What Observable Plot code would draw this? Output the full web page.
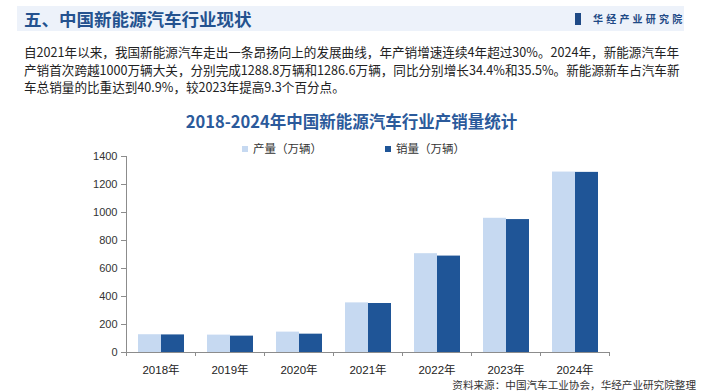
<!DOCTYPE html>
<html>
<head>
<meta charset="utf-8">
<script src="https://cdn.jsdelivr.net/npm/d3@7"></script>
<script src="https://cdn.jsdelivr.net/npm/@observablehq/plot@0.6"></script>
<style>
  html, body { margin: 0; padding: 0; background: #fff; }
  #page { position: relative; width: 705px; height: 392px; overflow: hidden; font-family: "Noto Sans CJK SC", "Noto Sans", sans-serif; }
  #band { position: absolute; left: 17px; top: 6px; width: 667px; height: 25px; background: #edf2fa; }
  #head { position: absolute; left: 24px; top: 6px; height: 25px; line-height: 25px; font-size: 17.5px; font-weight: 700; color: #24528f; white-space: nowrap; }
  #logo { position: absolute; left: 575px; top: 6px; height: 25px; line-height: 25px; font-size: 10px; font-weight: 700; color: #1f4a86; letter-spacing: 3.2px; white-space: nowrap; }
  #logo .ic { display: inline-block; width: 5px; height: 12px; background: #1f4a86; vertical-align: -2px; margin-right: 12px; border-left: 1px solid #1f4a86; }
  .para { position: absolute; left: 24px; width: 652px; font-size: 12.6px; line-height: 17.5px; color: #222; white-space: nowrap; text-align: justify; text-align-last: justify; }
  .para.last { text-align-last: left; }
  #ctitle { position: absolute; left: 0; width: 703px; top: 109px; text-align: center; font-size: 16.5px; font-weight: 700; color: #2b5a9b; line-height: 24px; }
  #legend { position: absolute; top: 140px; left: 0; height: 16px; font-size: 11.5px; color: #333; line-height: 16px; white-space: nowrap; }
  .lg { position: absolute; top: 0; }
  .lg i { display: inline-block; width: 6px; height: 6px; margin-right: 5px; vertical-align: 1px; }
  #chart { position: absolute; left: 0; top: 150px; }
  #source { position: absolute; right: 9px; top: 377px; font-size: 10.6px; color: #333; line-height: 16px; white-space: nowrap; }
</style>
</head>
<body>
<div id="page">
  <div id="band"></div>
  <div id="head"></div>
  <div id="logo"><span class="ic"></span><span id="logotext"></span></div>
  <div id="paras"></div>
  <div id="ctitle"></div>
  <div id="legend"></div>
  <div id="chart"></div>
  <div id="source"></div>
</div>
<script>
// ---- data ----
const years = ["2018年", "2019年", "2020年", "2021年", "2022年", "2023年", "2024年"];
const production = [127, 124.2, 145.6, 354.5, 705.8, 958.7, 1288.8];
const sales = [125.6, 117, 131, 350, 688.7, 949.5, 1286.6];
const seriesNames = ["产量（万辆）", "销量（万辆）"];
const seriesColors = ["#c6d9f1", "#1f5597"];
const yTicks = [0, 200, 400, 600, 800, 1000, 1200, 1400];

const headTitle = "五、中国新能源汽车行业现状";
const logoText = "华经产业研究院";
const paraLines = [
  "自2021年以来，我国新能源汽车走出一条昂扬向上的发展曲线，年产销增速连续4年超过30%。2024年，新能源汽车年",
  "产销首次跨越1000万辆大关，分别完成1288.8万辆和1286.6万辆，同比分别增长34.4%和35.5%。新能源新车占汽车新",
  "车总销量的比重达到40.9%，较2023年提高9.3个百分点。"
];
const chartTitle = "2018-2024年中国新能源汽车行业产销量统计";
const sourceText = "资料来源：中国汽车工业协会，华经产业研究院整理";

// ---- text ----
document.getElementById("head").textContent = headTitle;
document.getElementById("logotext").textContent = logoText;
const paras = document.getElementById("paras");
paraLines.forEach((t, i) => {
  const d = document.createElement("div");
  d.className = "para" + (i === paraLines.length - 1 ? " last" : "");
  d.style.top = (43 + i * 17.5) + "px";
  d.textContent = t;
  paras.appendChild(d);
});
document.getElementById("ctitle").textContent = chartTitle;
document.getElementById("source").textContent = sourceText;

const legendLefts = [242, 385];
const legend = document.getElementById("legend");
seriesNames.forEach((s, i) => {
  const it = document.createElement("span");
  it.className = "lg";
  it.style.left = legendLefts[i] + "px";
  const sw = document.createElement("i");
  sw.style.background = seriesColors[i];
  it.appendChild(sw);
  it.appendChild(document.createTextNode(s));
  legend.appendChild(it);
});

// ---- chart ----
const data = years.flatMap((y, i) => [
  {year: y, type: seriesNames[0], value: production[i]},
  {year: y, type: seriesNames[1], value: sales[i]}
]);

const W = 705, H = 235, mL = 126, mR = 96, mT = 6, mB = 33;
const step = (W - mL - mR) / years.length;
const axisGrey = "#8c8c8c";

const chart = Plot.plot({
  width: W, height: H,
  marginLeft: mL, marginRight: mR, marginTop: mT, marginBottom: mB,
  style: {fontFamily: "'Liberation Sans', Arial, 'Noto Sans CJK SC', sans-serif", fontSize: "11px", color: "#404040", background: "transparent", overflow: "visible"},
  fx: {domain: years, padding: 0, label: null},
  x: {domain: seriesNames, paddingInner: 0, paddingOuter: 0.5, axis: null},
  y: {domain: [0, 1400], label: null},
  color: {domain: seriesNames, range: seriesColors},
  marks: [
    Plot.barY(data, {fx: "year", x: "type", y: "value", fill: "type"}),
    Plot.ruleY([0], {stroke: axisGrey}),
    Plot.frame({anchor: "left", facetAnchor: "left", stroke: axisGrey}),
    Plot.axisY({ticks: yTicks, tickFormat: d => String(d), tickSize: 5, tickPadding: 4, label: null, stroke: axisGrey, fill: "#333", fontSize: 11}),
    Plot.axisFx({anchor: "bottom", tickSize: 0, tickPadding: 13, label: null, fill: "#222", fontSize: 11.5}),
    Plot.axisFx({anchor: "bottom", text: null, tickSize: 4, dx: -step / 2, label: null, stroke: axisGrey}),
    Plot.axisFx({anchor: "bottom", ticks: [years[years.length - 1]], text: null, tickSize: 4, dx: step / 2, label: null, stroke: axisGrey})
  ]
});
document.getElementById("chart").appendChild(chart);
</script>
</body>
</html>
